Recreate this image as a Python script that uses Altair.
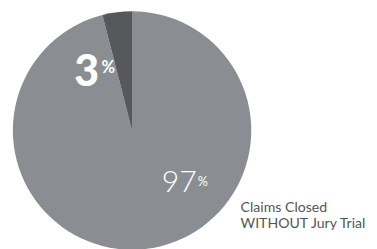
import altair as alt
import pandas as pd

categories = ["Without Jury Trial", "With Jury Trial"]
shares = [96, 4]
colors = ["#8a8e93", "#56585b"]
label_big = "97"
label_small = "3"
caption = ["Claims Closed", "WITHOUT Jury Trial"]

df = pd.DataFrame({"cat": categories, "share": shares, "order": [0, 1]})

W, H = 371, 241
cx, cy, r = 127.5, 122.5, 122.5

pie = alt.Chart(df).mark_arc(radius=r, stroke=None).encode(
    theta=alt.Theta("share:Q", stack=True),
    order=alt.Order("order:Q"),
    color=alt.Color("cat:N", scale=alt.Scale(domain=categories, range=colors), legend=None),
    x=alt.value(cx), y=alt.value(cy),
)

def txt(text, x, y, size, weight, color, font="Lato"):
    return alt.Chart(pd.DataFrame({"t": [text]})).mark_text(
        font=font, fontSize=size, fontWeight=weight, color=color, align="left", baseline="alphabetic"
    ).encode(text="t:N", x=alt.value(x), y=alt.value(y))

layers = [
    pie,
    txt(label_small, 68, 77, 44, 900, "white"),
    txt("%", 96, 63, 17, 700, "white"),
    txt(label_big, 158, 186, 31, 300, "white"),
    txt("%", 195, 180, 13, 400, "white"),
]
cap = alt.Chart(pd.DataFrame({"t": [caption]})).mark_text(
    font="Lato", fontSize=14.5, color="#555555", align="left", baseline="alphabetic", lineHeight=16
).encode(text="t", x=alt.value(239), y=alt.value(206.5))
layers.append(cap)

chart = alt.layer(*layers).properties(width=W, height=H, padding=0, autosize="none").configure_view(stroke=None)
chart.save("out.html", embed_options={"renderer": "svg", "actions": False})
